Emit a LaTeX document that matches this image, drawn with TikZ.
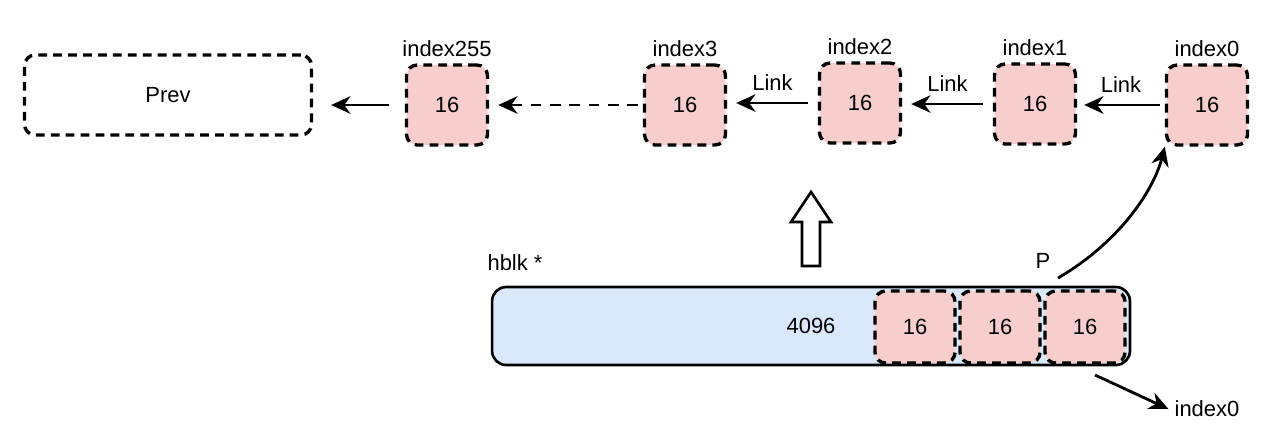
\documentclass[tikz,border=0pt]{standalone}
\usepackage{fontspec}
\setmainfont{Liberation Sans}
\usetikzlibrary{arrows.meta}
\definecolor{cellred}{HTML}{F8CECC}
\definecolor{blkblue}{HTML}{DAE8FC}
\tikzset{
  txt/.style={font=\fontsize{12.5}{15}\selectfont},
  cell/.style={txt, draw, line width=1.9pt, dash pattern=on 5pt off 3.5pt,
    rounded corners=6pt, fill=cellred, minimum width=1.62cm, minimum height=1.6cm},
  slot/.style={cell, minimum width=1.6cm, minimum height=1.44cm},
  link/.style={-{Stealth[length=11pt,width=10pt]}, line width=1.6pt},
}
\begin{document}
\begin{tikzpicture}[x=0.02cm, y=-0.02cm]
\useasboundingbox (0,0) rectangle (1280,441);
% liste des blocs libres
\node[cell, fill=none, minimum width=5.74cm] (prev) at (168,95) {Prev};
\node[cell, label={[txt]above:index255}] (i255) at (447,105) {16};
\node[cell, label={[txt]above:index3}] (i3) at (685,105) {16};
\node[cell, label={[txt]above:index2}] (i2) at (860,103) {16};
\node[cell, label={[txt]above:index1}] (i1) at (1035,104) {16};
\node[cell, label={[txt]above:index0}] (i0) at (1207,105) {16};
%
\draw[link, shorten <=0.32cm, shorten >=0.36cm] (i255.west) -- (prev.east |- i255.west);
\draw[link, dash pattern=on 6pt off 5pt, shorten <=0.1cm, shorten >=0.18cm] (i3.west) -- (i255.east);
\draw[link, shorten <=0.2cm, shorten >=0.18cm] (i2.west) -- node[txt, above=3pt]{Link} (i3.east |- i2.west);
\draw[link, shorten <=0.2cm, shorten >=0.18cm] (i1.west) -- node[txt, above=3pt]{Link} (i2.east |- i1.west);
\draw[link, shorten <=0.1cm, shorten >=0.14cm] (i0.west) -- node[txt, above=3pt]{Link} (i1.east |- i0.west);
%
\draw[line width=1.5pt, line join=miter] (802,266) -- (820,266) -- (820,222) -- (831,222)
  -- (811,192) -- (791,222) -- (802,222) -- cycle; % grosse fleche
%
\node[txt, draw, line width=1.5pt, rounded corners=8pt, fill=blkblue,
  minimum width=12.76cm, minimum height=1.56cm] (hblk) at (811,326) {4096};
\node[txt] (hblklab) at (515,263) {hblk *};
\node[slot] (s3) at (915,327) {16};
\node[slot] (s2) at (1000,327) {16};
\node[slot] (s1) at (1085,327) {16};
\node[txt] (plab) at (1043,261) {P};
%
\coordinate (pstart) at (1058,278);
\draw[link] (pstart) .. controls (1118,243) and (1153,192) .. (i0.south west);
\coordinate (qstart) at (1095,375);
\node[txt] (i0low) at (1207,409) {index0};
\draw[link] (qstart) -- (i0low.west);
\end{tikzpicture}
\end{document}
